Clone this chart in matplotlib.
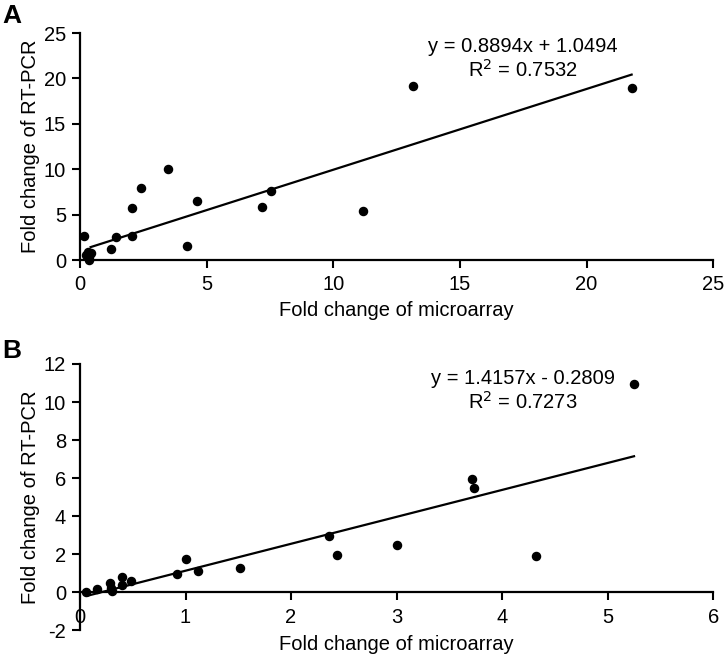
import numpy as np
import matplotlib
matplotlib.use("Agg")
import matplotlib.pyplot as plt

plt.rcParams['font.family'] = ['Liberation Sans', 'DejaVu Sans']
plt.rcParams['axes.unicode_minus'] = False

# panel A data (microarray fold change vs RT-PCR fold change)
xa = [0.16, 0.25, 0.30, 0.35, 0.35, 0.45, 1.22, 1.41, 2.05, 2.05, 2.40, 3.47,
      4.22, 4.63, 7.18, 7.54, 11.16, 13.16, 21.78]
ya = [2.65, 0.50, 0.90, 0.30, 0.00, 0.80, 1.18, 2.54, 2.65, 5.73, 7.98, 10.03,
      1.58, 6.50, 5.80, 7.65, 5.44, 19.18, 18.96]
fit_a = (0.8894, 1.0494)
line_a_x = [0.42, 21.78]
eq_a = "y = 0.8894x + 1.0494"
r2_a = "R$^2$ = 0.7532"

# panel B data
xb = [0.06, 0.16, 0.28, 0.29, 0.30, 0.40, 0.40, 0.48, 0.92, 1.00, 1.12, 1.52,
      2.36, 2.44, 3.00, 3.71, 3.73, 4.32, 5.25]
yb = [0.03, 0.16, 0.47, 0.24, 0.08, 0.78, 0.36, 0.62, 0.96, 1.73, 1.12, 1.28,
      2.97, 1.96, 2.49, 5.95, 5.48, 1.91, 10.93]
fit_b = (1.4157, -0.2809)
line_b_x = [0.08, 5.25]
eq_b = "y = 1.4157x - 0.2809"
r2_b = "R$^2$ = 0.7273"

fig = plt.figure(figsize=(7.27, 6.55), dpi=100)
axA = fig.add_axes([0.110, 0.603, 0.871, 0.3466])
axB = fig.add_axes([0.110, 0.0376, 0.871, 0.4067])

FS = 14.5

def style(ax):
    for s in ['top', 'right']:
        ax.spines[s].set_visible(False)
    for s in ['left', 'bottom']:
        ax.spines[s].set_linewidth(1.6)
    ax.tick_params(direction='out', length=6, width=1.5, labelsize=FS, pad=4)
    ax.tick_params(axis='x', pad=5)
    ax.set_xlabel("Fold change of microarray", fontsize=FS)
    ax.set_ylabel("Fold change of RT-PCR", fontsize=FS, labelpad=3)

# panel A
axA.scatter(xa, ya, s=34, color='black', zorder=3, clip_on=False)
lx = np.array(line_a_x)
axA.plot(lx, fit_a[0] * lx + fit_a[1], color='black', lw=1.6)
axA.set_xlim(0, 25)
axA.set_ylim(0, 25)
axA.set_xticks([0, 5, 10, 15, 20, 25])
axA.set_yticks([0, 5, 10, 15, 20, 25])
style(axA)
axA.xaxis.set_label_coords(0.5, -0.18)
axA.text(17.5, 23.5, eq_a, ha='center', va='center', fontsize=FS)
axA.text(17.5, 20.9, r2_a, ha='center', va='center', fontsize=FS)

# panel B
axB.scatter(xb, yb, s=34, color='black', zorder=3, clip_on=False)
lx = np.array(line_b_x)
axB.plot(lx, fit_b[0] * lx + fit_b[1], color='black', lw=1.6)
axB.set_xlim(0, 6)
axB.set_ylim(-2, 12)
axB.set_xticks([0, 1, 2, 3, 4, 5, 6])
axB.set_yticks([-2, 0, 2, 4, 6, 8, 10, 12])
axB.spines['bottom'].set_position(('data', 0))
style(axB)
axB.xaxis.set_label_coords(0.5, -0.017)
axB.text(4.2, 11.26, eq_b, ha='center', va='center', fontsize=FS)
axB.text(4.2, 10.0, r2_b, ha='center', va='center', fontsize=FS)

fig.text(0.003, 0.975, "A", fontsize=19, fontweight='bold', va='center')
fig.text(0.003, 0.464, "B", fontsize=19, fontweight='bold', va='center')

fig.savefig("out.png", dpi=100)
